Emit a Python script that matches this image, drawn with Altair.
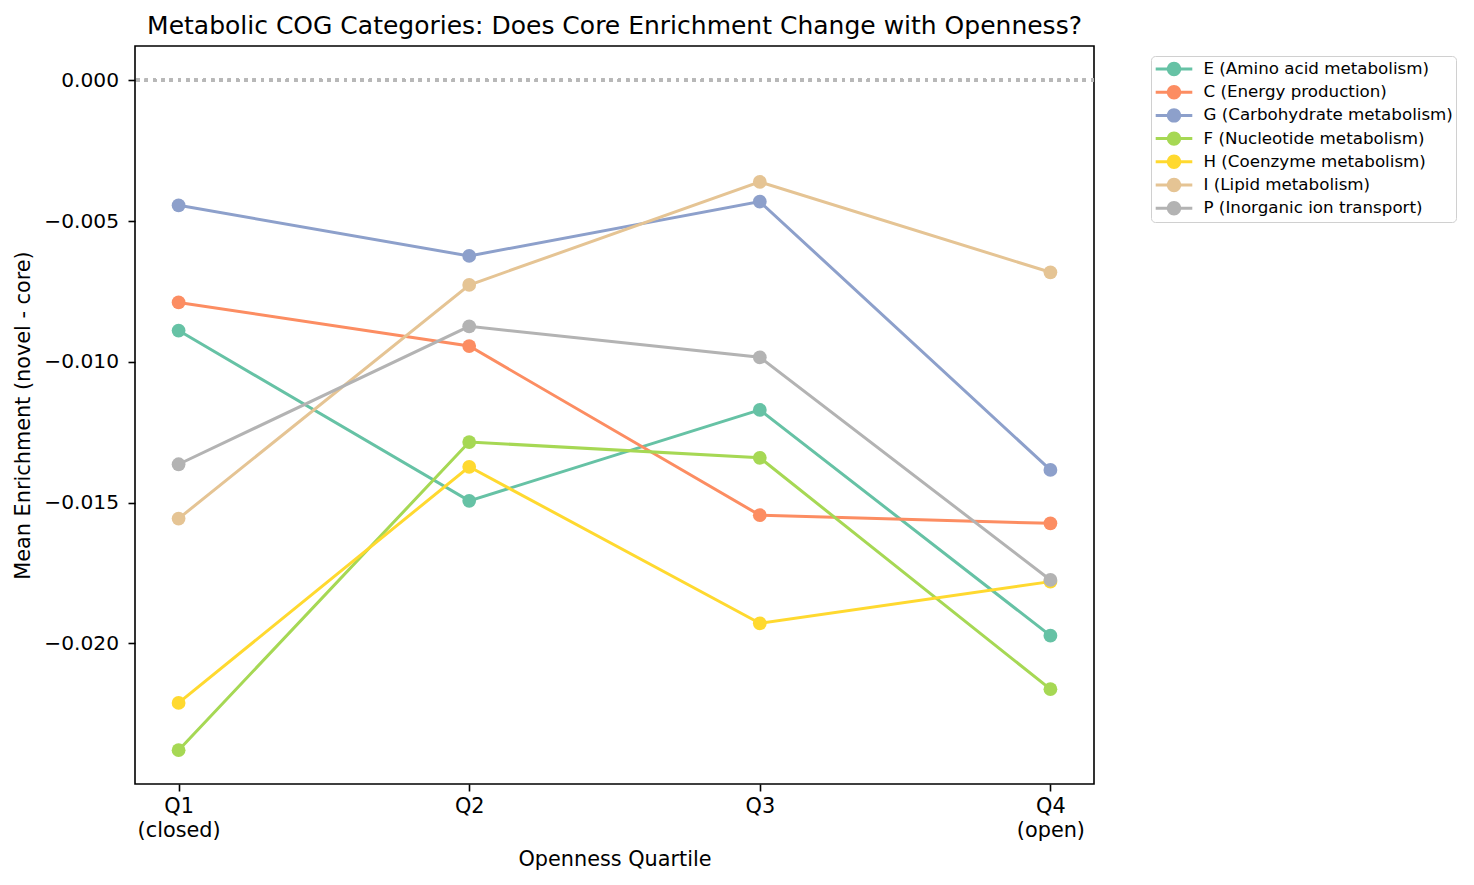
import altair as alt
import pandas as pd

quartiles = ["Q1", "Q2", "Q3", "Q4"]
quartile_notes = ["(closed)", "", "", "(open)"]

categories = [
    "E (Amino acid metabolism)",
    "C (Energy production)",
    "G (Carbohydrate metabolism)",
    "F (Nucleotide metabolism)",
    "H (Coenzyme metabolism)",
    "I (Lipid metabolism)",
    "P (Inorganic ion transport)",
]
colors = ["#66c2a5", "#fc8d62", "#8da0cb", "#a6d854", "#ffd92f", "#e5c494", "#b3b3b3"]

E_vals = [-0.00889, -0.01494, -0.01171, -0.01973]
C_vals = [-0.00789, -0.00944, -0.01545, -0.01574]
G_vals = [-0.00444, -0.00624, -0.00431, -0.01384]
F_vals = [-0.02380, -0.01285, -0.01341, -0.02163]
H_vals = [-0.02212, -0.01373, -0.01929, -0.01781]
I_vals = [-0.01557, -0.00727, -0.00361, -0.00682]
P_vals = [-0.01364, -0.00874, -0.00984, -0.01775]
series = [E_vals, C_vals, G_vals, F_vals, H_vals, I_vals, P_vals]

y_ticks = [0.0, -0.005, -0.010, -0.015, -0.020]

rows = []
for cat, vals in zip(categories, series):
    for q, v in zip(quartiles, vals):
        rows.append({"category": cat, "quartile": q, "enrichment": v})
df = pd.DataFrame(rows)

label_expr = "".join(
    f"datum.value == '{q}' ? ['{q}', '{n}'] : " for q, n in zip(quartiles, quartile_notes) if n
) + "datum.value"

FONT = "DejaVu Sans"

x_enc = alt.X(
    "quartile:N",
    sort=quartiles,
    scale=alt.Scale(type="point", padding=0.15),
    axis=alt.Axis(
        title="Openness Quartile",
        labelAngle=0,
        labelExpr=label_expr,
        labelFontSize=20.8,
        labelLineHeight=24,
        labelPadding=5,
        labelBaseline="top",
        tickSize=7,
        tickWidth=1.6,
        tickColor="black",
        labelColor="black",
        domain=False,
        grid=False,
        titleFontSize=20.8,
        titleFontWeight="normal",
        titleColor="black",
        titlePadding=10,
    ),
)
y_scale = alt.Scale(domain=[-0.0250, 0.00122], nice=False, zero=False)
y_enc = alt.Y(
    "enrichment:Q",
    scale=y_scale,
    axis=alt.Axis(
        title="Mean Enrichment (novel - core)",
        values=y_ticks,
        format=".3f",
        labelFontSize=20.2,
        labelPadding=9.5,
        tickSize=7,
        tickWidth=1.6,
        tickColor="black",
        labelColor="black",
        domain=False,
        grid=False,
        titleFontSize=20.8,
        titleFontWeight="normal",
        titleColor="black",
        titlePadding=10,
    ),
)

legend_common = dict(
    title=None,
    orient="none",
    legendX=1016,
    legendY=10,
    padding=3,
    symbolOffset=8.5,
    labelOffset=18,
    rowPadding=3.2,
    clipHeight=20,
    symbolSize=400,
    symbolStrokeWidth=3,
    labelFontSize=16.7,
    labelFont=FONT,
    labelLimit=500,
)
line_path = "M-1.83,0L1.83,0"
dot_path = "M0.72,0A0.72,0.72,0,1,1,-0.72,0A0.72,0.72,0,1,1,0.72,0Z"

# stroke legend: explicit domain; fill legend: data-derived domain (kept separate)
stroke_enc = alt.Stroke(
    "category:N",
    sort=categories,
    scale=alt.Scale(domain=categories, range=colors),
    legend=alt.Legend(
        symbolType=line_path,
        labelColor="black",
        strokeColor="#d0d0d0",
        cornerRadius=4,
        **legend_common,
    ),
)
fill_enc = alt.Fill(
    "category:N",
    sort=categories,
    scale=alt.Scale(range=colors),
    legend=alt.Legend(
        symbolType=dot_path,
        symbolStrokeColor="transparent",
        symbolOpacity=1,
        labelExpr="''",
        **legend_common,
    ),
)

zero_line = alt.Chart(df).mark_rule(
    color="#b8b8b8", strokeWidth=3, strokeDash=[3, 5.3]
).encode(y=alt.datum(0.0, scale=y_scale))

lines = alt.Chart(df).mark_line(strokeWidth=3).encode(
    x=x_enc, y=y_enc, stroke=stroke_enc, detail="category:N",
    order=alt.Order("quartile:N"),
)
points = alt.Chart(df).mark_circle(size=190, opacity=1).encode(
    x=x_enc, y=y_enc, fill=fill_enc,
)

chart = (
    alt.layer(zero_line, lines, points)
    .resolve_legend(stroke="independent", fill="independent")
    .properties(
        width=959,
        height=738,
        title=alt.TitleParams(
            "Metabolic COG Categories: Does Core Enrichment Change with Openness?",
            fontSize=25,
            fontWeight="normal",
            font=FONT,
            color="black",
            anchor="middle",
            frame="group",
            baseline="alphabetic",
            offset=13,
            dy=26,
        ),
        autosize=alt.AutoSizeParams(type="none"),
        padding={"left": 127, "top": 38, "right": 372, "bottom": 93},
        background="white",
    )
    .configure(font=FONT)
    .configure_view(stroke="black", strokeWidth=1.6)
)

chart.save("out.html", embed_options={"renderer": "svg", "actions": False})
